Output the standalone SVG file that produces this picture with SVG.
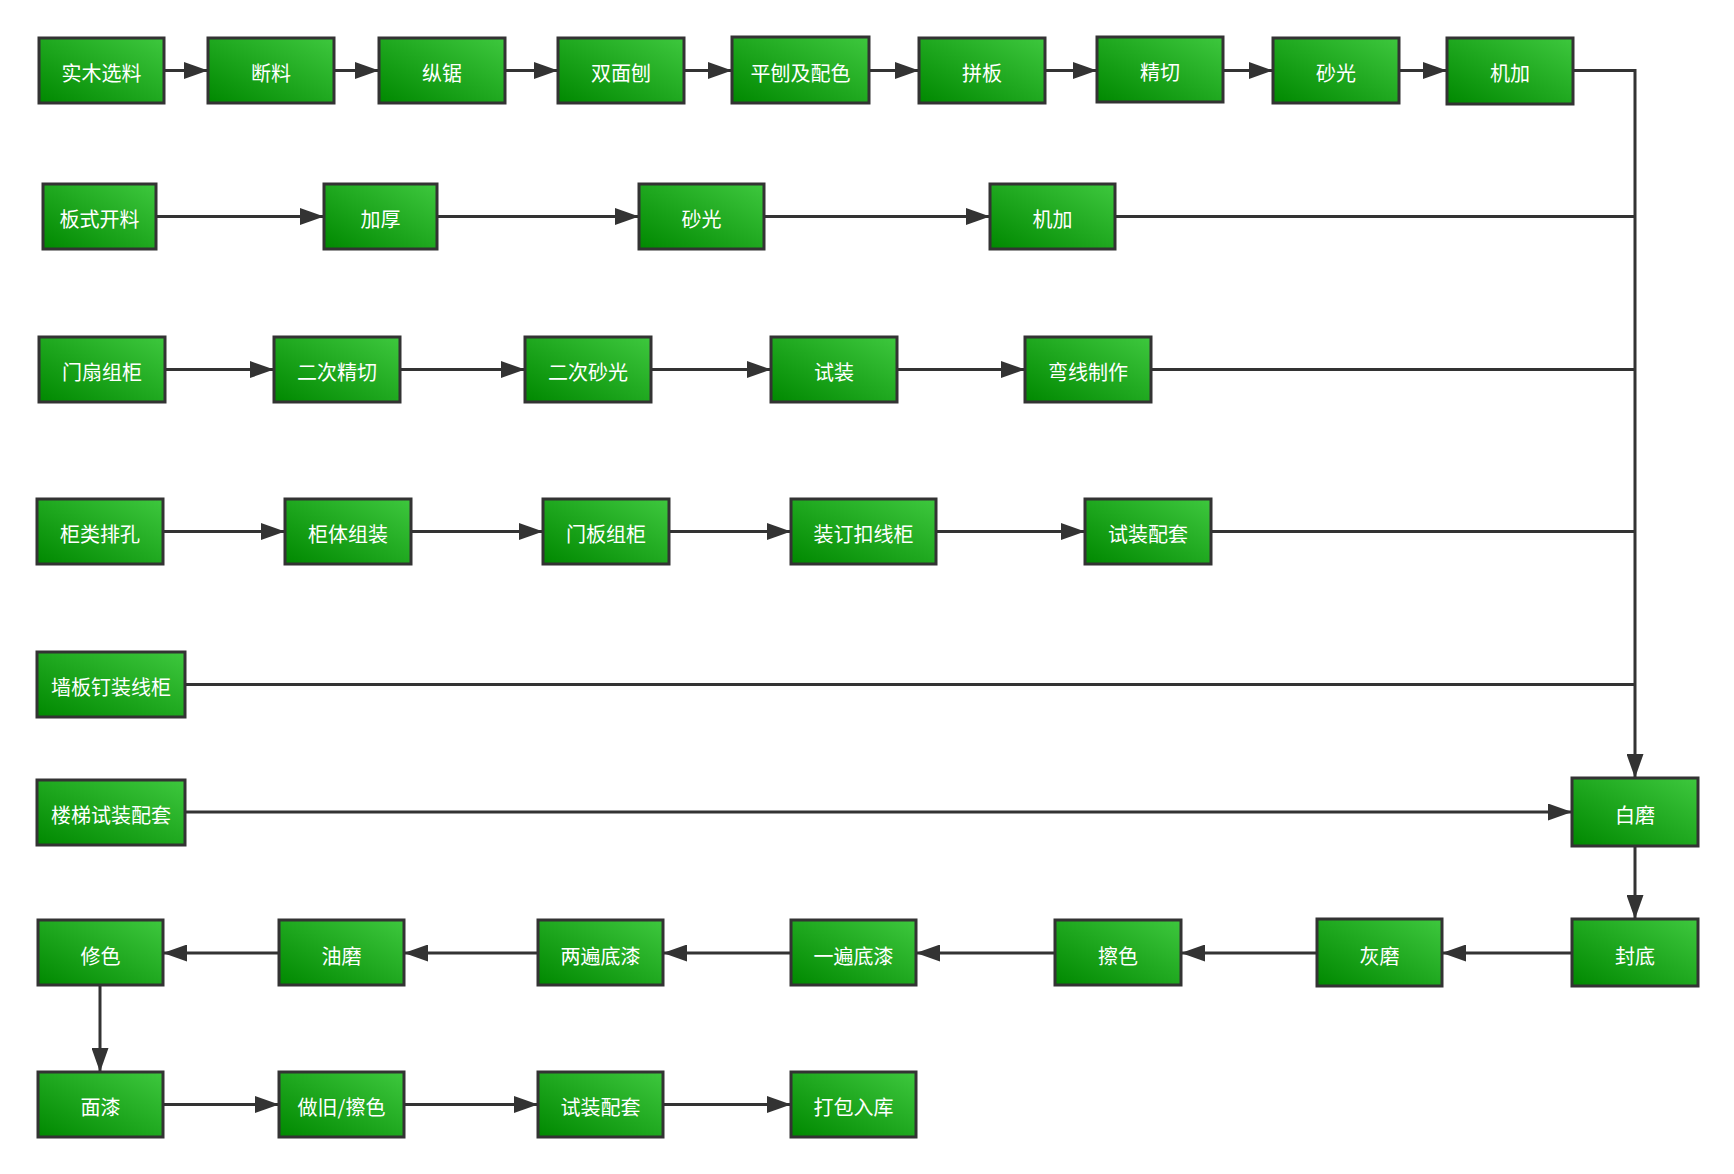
<svg xmlns="http://www.w3.org/2000/svg" width="1734" height="1174" viewBox="0 0 1734 1174">
<defs>
<linearGradient id="g" x1="0" y1="1" x2="1" y2="0">
<stop offset="0" stop-color="#008800"/>
<stop offset="1" stop-color="#3ec83e"/>
</linearGradient>
<marker id="arr" markerUnits="userSpaceOnUse" markerWidth="24" markerHeight="17" refX="24" refY="8.5" orient="auto">
<path d="M0,0 L24,8.5 L0,17 Z" fill="#333"/>
</marker>
</defs>
<style>
.node rect{fill:url(#g);stroke:#333;stroke-width:3}
.node text{fill:#fff;font-family:"Noto Sans CJK SC","Liberation Sans",sans-serif;font-size:20px;text-anchor:middle;dominant-baseline:central}
.edges path{fill:none;stroke:#333;stroke-width:3}
.edges path.a{marker-end:url(#arr)}
</style>
<rect width="1734" height="1174" fill="#fff"/>
<g class="edges">
<path class="a" d="M164,70.5 H208"/>
<path class="a" d="M334,70.5 H379"/>
<path class="a" d="M505,70.5 H558"/>
<path class="a" d="M684,70.5 H732"/>
<path class="a" d="M869,70.5 H919"/>
<path class="a" d="M1045,70.5 H1097"/>
<path class="a" d="M1223,70.5 H1273"/>
<path class="a" d="M1399,70.5 H1447"/>
<path class="a" d="M1573,70.5 H1635 V778"/>
<path class="a" d="M156,216.5 H324"/>
<path class="a" d="M437,216.5 H639"/>
<path class="a" d="M764,216.5 H990"/>
<path d="M1115,216.5 H1635"/>
<path class="a" d="M165,369.5 H274"/>
<path class="a" d="M400,369.5 H525"/>
<path class="a" d="M651,369.5 H771"/>
<path class="a" d="M897,369.5 H1025"/>
<path d="M1151,369.5 H1635"/>
<path class="a" d="M163,531.5 H285"/>
<path class="a" d="M411,531.5 H543"/>
<path class="a" d="M669,531.5 H791"/>
<path class="a" d="M936,531.5 H1085"/>
<path d="M1211,531.5 H1635"/>
<path d="M185,684.5 H1635"/>
<path class="a" d="M185,812 H1572"/>
<path class="a" d="M1635,846 V919"/>
<path class="a" d="M1572,953 H1442"/>
<path class="a" d="M1317,953 H1181"/>
<path class="a" d="M1055,953 H916"/>
<path class="a" d="M791,953 H663"/>
<path class="a" d="M538,953 H404"/>
<path class="a" d="M279,953 H163"/>
<path class="a" d="M100,985 V1072"/>
<path class="a" d="M163,1104.5 H279"/>
<path class="a" d="M404,1104.5 H538"/>
<path class="a" d="M663,1104.5 H791"/>
</g>
<g id="n1" class="node"><rect x="39" y="38" width="125" height="65"/><text x="101.5" y="72">实木选料</text></g>
<g id="n2" class="node"><rect x="208" y="38" width="126" height="65"/><text x="271" y="72">断料</text></g>
<g id="n3" class="node"><rect x="379" y="38" width="126" height="65"/><text x="442" y="72">纵锯</text></g>
<g id="n4" class="node"><rect x="558" y="38" width="126" height="65"/><text x="621" y="72">双面刨</text></g>
<g id="n5" class="node"><rect x="732" y="37" width="137" height="66"/><text x="800.5" y="72">平刨及配色</text></g>
<g id="n6" class="node"><rect x="919" y="38" width="126" height="65"/><text x="982" y="72">拼板</text></g>
<g id="n7" class="node"><rect x="1097" y="37" width="126" height="65"/><text x="1160" y="71">精切</text></g>
<g id="n8" class="node"><rect x="1273" y="38" width="126" height="65"/><text x="1336" y="72">砂光</text></g>
<g id="n9" class="node"><rect x="1447" y="38" width="126" height="66"/><text x="1510" y="72">机加</text></g>
<g id="n10" class="node"><rect x="43" y="184" width="113" height="65"/><text x="99.5" y="218">板式开料</text></g>
<g id="n11" class="node"><rect x="324" y="184" width="113" height="65"/><text x="380.5" y="218">加厚</text></g>
<g id="n12" class="node"><rect x="639" y="184" width="125" height="65"/><text x="701.5" y="218">砂光</text></g>
<g id="n13" class="node"><rect x="990" y="184" width="125" height="65"/><text x="1052.5" y="218">机加</text></g>
<g id="n14" class="node"><rect x="39" y="337" width="126" height="65"/><text x="102" y="371">门扇组柜</text></g>
<g id="n15" class="node"><rect x="274" y="337" width="126" height="65"/><text x="337" y="371">二次精切</text></g>
<g id="n16" class="node"><rect x="525" y="337" width="126" height="65"/><text x="588" y="371">二次砂光</text></g>
<g id="n17" class="node"><rect x="771" y="337" width="126" height="65"/><text x="834" y="371">试装</text></g>
<g id="n18" class="node"><rect x="1025" y="337" width="126" height="65"/><text x="1088" y="371">弯线制作</text></g>
<g id="n19" class="node"><rect x="37" y="499" width="126" height="65"/><text x="100" y="533">柜类排孔</text></g>
<g id="n20" class="node"><rect x="285" y="499" width="126" height="65"/><text x="348" y="533">柜体组装</text></g>
<g id="n21" class="node"><rect x="543" y="499" width="126" height="65"/><text x="606" y="533">门板组柜</text></g>
<g id="n22" class="node"><rect x="791" y="499" width="145" height="65"/><text x="863.5" y="533">装订扣线柜</text></g>
<g id="n23" class="node"><rect x="1085" y="499" width="126" height="65"/><text x="1148" y="533">试装配套</text></g>
<g id="n24" class="node"><rect x="37" y="652" width="148" height="65"/><text x="111" y="686">墙板钉装线柜</text></g>
<g id="n25" class="node"><rect x="37" y="780" width="148" height="65"/><text x="111" y="814">楼梯试装配套</text></g>
<g id="n26" class="node"><rect x="1572" y="778" width="126" height="68"/><text x="1635" y="814">白磨</text></g>
<g id="n27" class="node"><rect x="1572" y="919" width="126" height="67"/><text x="1635" y="955">封底</text></g>
<g id="n28" class="node"><rect x="1317" y="919" width="125" height="67"/><text x="1379.5" y="955">灰磨</text></g>
<g id="n29" class="node"><rect x="1055" y="920" width="126" height="65"/><text x="1118" y="955">擦色</text></g>
<g id="n30" class="node"><rect x="791" y="920" width="125" height="65"/><text x="853.5" y="955">一遍底漆</text></g>
<g id="n31" class="node"><rect x="538" y="920" width="125" height="65"/><text x="600.5" y="955">两遍底漆</text></g>
<g id="n32" class="node"><rect x="279" y="920" width="125" height="65"/><text x="341.5" y="955">油磨</text></g>
<g id="n33" class="node"><rect x="38" y="920" width="125" height="65"/><text x="100.5" y="955">修色</text></g>
<g id="n34" class="node"><rect x="38" y="1072" width="125" height="65"/><text x="100.5" y="1106">面漆</text></g>
<g id="n35" class="node"><rect x="279" y="1072" width="125" height="65"/><text x="341.5" y="1106">做旧/擦色</text></g>
<g id="n36" class="node"><rect x="538" y="1072" width="125" height="65"/><text x="600.5" y="1106">试装配套</text></g>
<g id="n37" class="node"><rect x="791" y="1072" width="125" height="65"/><text x="853.5" y="1106">打包入库</text></g>
</svg>
